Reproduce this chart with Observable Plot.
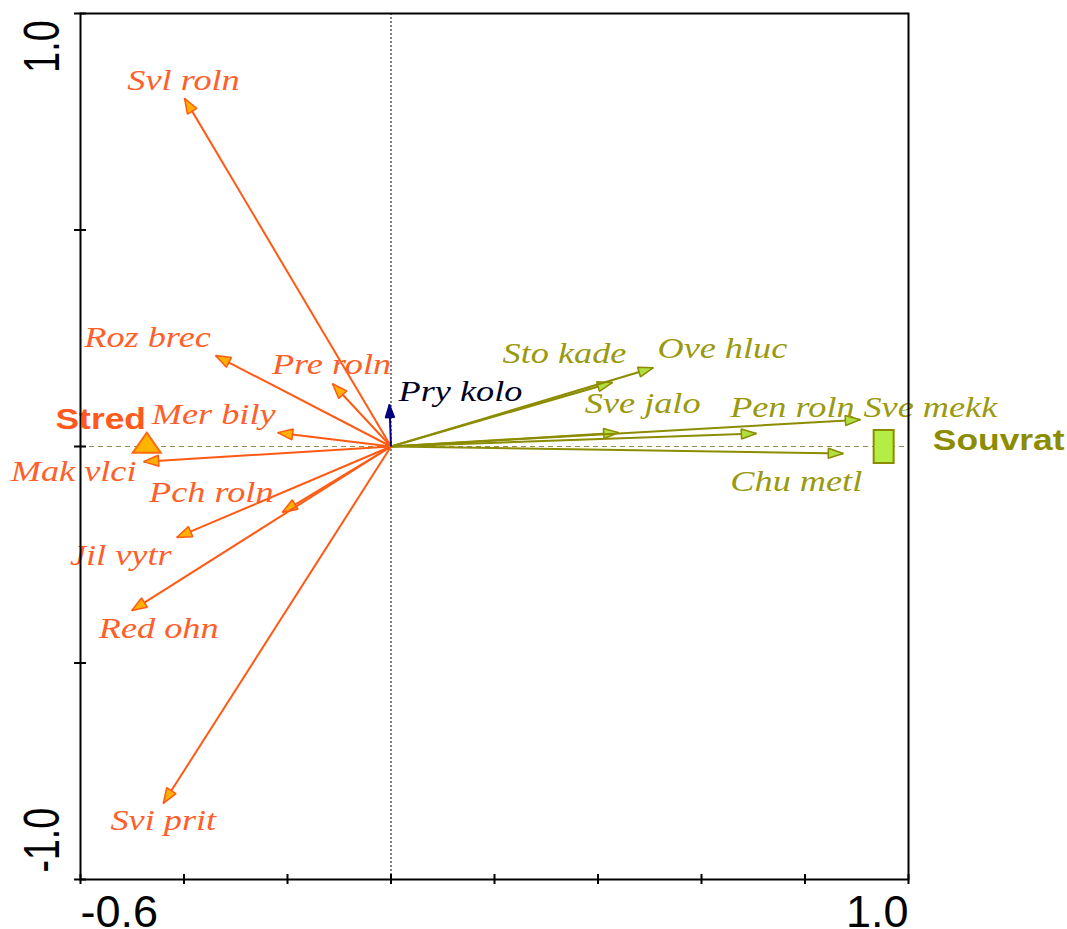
<!DOCTYPE html>
<html><head><meta charset="utf-8">
<script src="https://cdn.jsdelivr.net/npm/d3@7"></script>
<script src="https://cdn.jsdelivr.net/npm/@observablehq/plot@0.6"></script>
<style>html,body{margin:0;padding:0;background:#fff;overflow:hidden}</style>
</head><body><div id="chart"></div>
<script>
// ---- data ----
const species = ["Svl roln","Roz brec","Pre roln","Mer bily","Mak vlci","Pch roln","Jil vytr","Red ohn","Svi prit","Pry kolo","Sto kade","Ove hluc","Sve jalo","Pen roln","Sve mekk","Chu metl"];
const speciesX = [-0.399,-0.339,-0.113,-0.219,-0.478,-0.210,-0.414,-0.501,-0.440,-0.003,0.428,0.507,0.440,0.706,0.907,0.874];
const speciesY = [0.804,0.210,0.145,0.032,-0.035,-0.152,-0.210,-0.379,-0.824,0.097,0.148,0.182,0.032,0.030,0.062,-0.016];
const speciesGroup = ["Stred","Stred","Stred","Stred","Stred","Stred","Stred","Stred","Stred","none","Souvrat","Souvrat","Souvrat","Souvrat","Souvrat","Souvrat"];
const centroids = ["Stred","Souvrat"];
const centroidX = [-0.472, 0.952];
const centroidY = [0.002, 0.0];
const xTicks = [-0.6,-0.4,-0.2,0,0.2,0.4,0.6,0.8,1.0];
const yTicks = [-1,-0.5,0,0.5,1];
const xTickLabels = ["-0.6","1.0"];
const xTickLabelValues = [-0.6, 1.0];
const yTickLabels = ["1.0","-1.0"];
const yTickLabelValues = [1.0, -1.0];

// ---- layout (label offsets in px, not data) ----
const labelDx = [-1,-68,-1,-64,-70,-71,-56,27,0,71,-48,69,24,36,70,-47];
const labelDy = [-8,-9,-10,-9,19,-10,28,27,27,-3,-19,-10,-20,-17,-3,38];
const centroidDx = [-46, 115];
const centroidDy = [-17, 3];

// ---- styles ----
const col = {
  Stred: {line:"#FF5A14", text:"#FF5F2A", headFill:"#FFB000", headStroke:"#FF5A14"},
  Souvrat: {line:"#8C8C00", text:"#9A9A10", headFill:"#B0E040", headStroke:"#8C8C00"},
  none: {line:"#000080", text:"#000020", headFill:"#000080", headStroke:"#000080"}
};

function head(fill, stroke, len, half, sw) {
  return (color, context) => {
    const doc = (context && context.document) || document;
    const ns = "http://www.w3.org/2000/svg";
    const m = doc.createElementNS(ns, "marker");
    m.setAttribute("viewBox", `${-len-4} ${-half-4} ${len+8} ${2*half+8}`);
    m.setAttribute("markerWidth", len+8);
    m.setAttribute("markerHeight", 2*half+8);
    m.setAttribute("markerUnits", "userSpaceOnUse");
    m.setAttribute("orient", "auto");
    m.setAttribute("refX", 0);
    m.setAttribute("refY", 0);
    const p = doc.createElementNS(ns, "path");
    p.setAttribute("d", `M0,0L${-len},${-half}L${-len},${half}Z`);
    p.setAttribute("fill", fill);
    p.setAttribute("stroke", stroke);
    p.setAttribute("stroke-width", sw);
    p.setAttribute("stroke-linejoin", "miter");
    m.appendChild(p);
    return m;
  };
}

const flatTriangle = {draw(ctx){ ctx.moveTo(0,-13); ctx.lineTo(14,7); ctx.lineTo(-14,7); ctx.closePath(); }};
const tallRect = {draw(ctx){ ctx.rect(-10,-16.5,20,33); }};

const idx = d3.range(species.length);
const byGroup = g => idx.filter(i => speciesGroup[i] === g);

const arrowMark = (g, len, half) => Plot.link(byGroup(g), {
  x1: 0, y1: 0,
  x2: i => speciesX[i], y2: i => speciesY[i],
  stroke: col[g].line, strokeWidth: 2,
  markerEnd: head(col[g].headFill, col[g].headStroke, len, half, 1.5)
});

const labelMarks = idx.map(i => Plot.text([i], {
  x: j => speciesX[j], y: j => speciesY[j], text: j => species[j],
  dx: labelDx[i], dy: labelDy[i],
  lineAnchor: "bottom", textAnchor: "middle",
  fill: col[speciesGroup[i]].text,
  fontFamily: "Liberation Serif, Times New Roman, serif", fontStyle: "italic", fontSize: 29
}));

const centroidLabelMarks = centroids.map((c, i) => Plot.text([i], {
  x: j => centroidX[j], y: j => centroidY[j], text: j => centroids[j],
  dx: centroidDx[i], dy: centroidDy[i],
  lineAnchor: "bottom", textAnchor: "middle",
  fill: i === 0 ? "#FF5A1E" : "#8C8C00",
  fontFamily: "Liberation Sans, Arial, sans-serif", fontWeight: "bold", fontSize: 30
}));

const chart = Plot.plot({
  width: 1067, height: 929,
  marginLeft: 80, marginRight: 159, marginTop: 13, marginBottom: 50,
  style: {background: "white", overflow: "hidden"},
  x: {domain: [-0.6, 1.0], label: null},
  y: {domain: [-1.0, 1.0], label: null},
  marks: [
    Plot.ruleY([0], {stroke: "#8f8f4f", strokeWidth: 1, strokeDasharray: "5,4"}),
    Plot.ruleX([0], {stroke: "#000", strokeWidth: 1, strokeDasharray: "2,2"}),
    Plot.dot([0], {x: i => centroidX[i], y: i => centroidY[i], symbol: flatTriangle, r: 10, fill: "#FFB400", stroke: "#FF6A10", strokeWidth: 2}),
    Plot.dot([1], {x: i => centroidX[i], y: i => centroidY[i], symbol: tallRect, r: 10, fill: "#B4EE44", stroke: "#8C8C00", strokeWidth: 2}),
    arrowMark("Souvrat", 15, 5),
    arrowMark("Stred", 15, 5.5),
    arrowMark("none", 13, 4.5),
    ...labelMarks,
    ...centroidLabelMarks,
    Plot.axisX({ticks: xTicks, anchor: "bottom", tickSize: 10, dy: -5, tickFormat: () => "", stroke: "#000", strokeWidth: 2, label: null}),
    Plot.axisY({ticks: yTicks, anchor: "left", tickSize: 12, dx: 6, tickFormat: () => "", stroke: "#000", strokeWidth: 2, label: null}),
    Plot.text([0], {x: i => xTickLabelValues[i], text: i => xTickLabels[i], frameAnchor: "bottom", dy: 16, lineAnchor: "top", textAnchor: "start", fontFamily: "Liberation Sans, Arial, sans-serif", fontSize: 45, fill: "#000"}),
    Plot.text([1], {x: i => xTickLabelValues[i], text: i => xTickLabels[i], frameAnchor: "bottom", dy: 16, lineAnchor: "top", textAnchor: "end", fontFamily: "Liberation Sans, Arial, sans-serif", fontSize: 45, fill: "#000"}),
    Plot.text([0], {y: i => yTickLabelValues[i], text: i => yTickLabels[i], frameAnchor: "left", dx: -22, dy: 7, rotate: -90, lineAnchor: "bottom", textAnchor: "end", fontFamily: "Liberation Sans, Arial, sans-serif", fontSize: 50, fill: "#000"}),
    Plot.text([1], {y: i => yTickLabelValues[i], text: i => yTickLabels[i], frameAnchor: "left", dx: -22, dy: -7, rotate: -90, lineAnchor: "bottom", textAnchor: "start", fontFamily: "Liberation Sans, Arial, sans-serif", fontSize: 50, fill: "#000"}),
    Plot.frame({stroke: "#000", strokeWidth: 2})
  ]
});

// horizontal stretch of the label glyphs (reference glyphs are wider than the fonts)
chart.querySelectorAll("text").forEach(t => {
  const s = t.textContent;
  const tr = t.getAttribute("transform") || "";
  let sx = null;
  if (species.includes(s)) sx = 1.25;
  else if (centroids.includes(s)) sx = 1.18;
  else if (yTickLabels.includes(s) && tr.includes("rotate")) sx = 0.75;
  if (sx !== null) {
    const x = t.getAttribute("x"), y = t.getAttribute("y");
    let pre = tr;
    // if positioned by absolute x attribute, fold it into the transform
    if (x && !/em$/.test(x)) { pre += ` translate(${x},0)`; t.removeAttribute("x"); }
    t.setAttribute("transform", `${pre} scale(${sx},1)`);
  }
});

document.getElementById("chart").appendChild(chart);
</script>
</body></html>
